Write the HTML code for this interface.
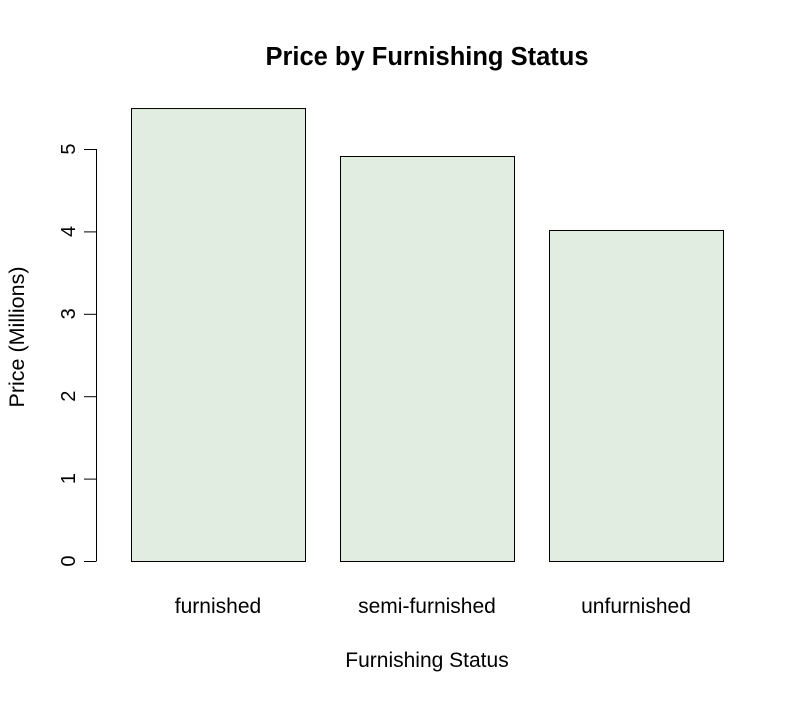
<!DOCTYPE html>
<html><head><meta charset="utf-8"><style>
body{margin:0;background:#fff;font-family:"Liberation Sans",Arial,sans-serif}
svg text{font-family:"Liberation Sans",Arial,sans-serif}
</style></head><body>
<svg id="chart" width="803" height="701" xmlns="http://www.w3.org/2000/svg">
<rect width="803" height="701" fill="#fff"/>
<text x="427" y="65" text-anchor="middle" font-size="25.5" font-weight="bold">Price by Furnishing Status</text>
<text x="427" y="667" text-anchor="middle" font-size="21">Furnishing Status</text>
<text transform="translate(24,337) rotate(-90)" text-anchor="middle" font-size="21.5">Price (Millions)</text>
<g id="bars"></g><g id="yaxis"></g><g id="xlabels"></g>
</svg>
<script>
const categories = ["furnished", "semi-furnished", "unfurnished"];
const values = [5.497, 4.915, 4.017];
const yTicks = [0, 1, 2, 3, 4, 5];
const NS = "http://www.w3.org/2000/svg";
function y(v){return 561 - v*82.4;}
function x(i){return 131 + i*209;}
const bw = 174;
const bars = document.getElementById('bars');
const xl = document.getElementById('xlabels');
values.forEach((v,i)=>{
  const r=document.createElementNS(NS,'rect');
  
  
  r.setAttribute('x',x(i)+0.5);r.setAttribute('y',y(v)+0.5);
  r.setAttribute('width',bw);r.setAttribute('height',y(0)-y(v));
  r.setAttribute('fill','#E0EDE0');r.setAttribute('stroke','#000');r.setAttribute('stroke-width','1');
  bars.appendChild(r);
  const t=document.createElementNS(NS,'text');
  
  
  t.setAttribute('x',x(i)+bw/2);t.setAttribute('y',613);
  t.setAttribute('text-anchor','middle');t.setAttribute('font-size','21');
  t.textContent=categories[i];xl.appendChild(t);
});
const ya=document.getElementById('yaxis');
const ln=document.createElementNS(NS,'line');


ln.setAttribute('x1',96.5);ln.setAttribute('x2',96.5);
ln.setAttribute('y1',y(yTicks[0]));ln.setAttribute('y2',y(yTicks[yTicks.length-1]));
ln.setAttribute('stroke','#000');ya.appendChild(ln);
yTicks.forEach(v=>{
  const tk=document.createElementNS(NS,'line');
  
  
  tk.setAttribute('x1',84);tk.setAttribute('x2',96.5);
  tk.setAttribute('y1',y(v)+0.5);tk.setAttribute('y2',y(v)+0.5);
  tk.setAttribute('stroke','#000');ya.appendChild(tk);
  const t=document.createElementNS(NS,'text');
  
  
  t.setAttribute('transform','translate(75,'+y(v)+') rotate(-90)');
  t.setAttribute('text-anchor','middle');t.setAttribute('font-size','20');
  t.textContent=v;ya.appendChild(t);
});
</script>
</body></html>
